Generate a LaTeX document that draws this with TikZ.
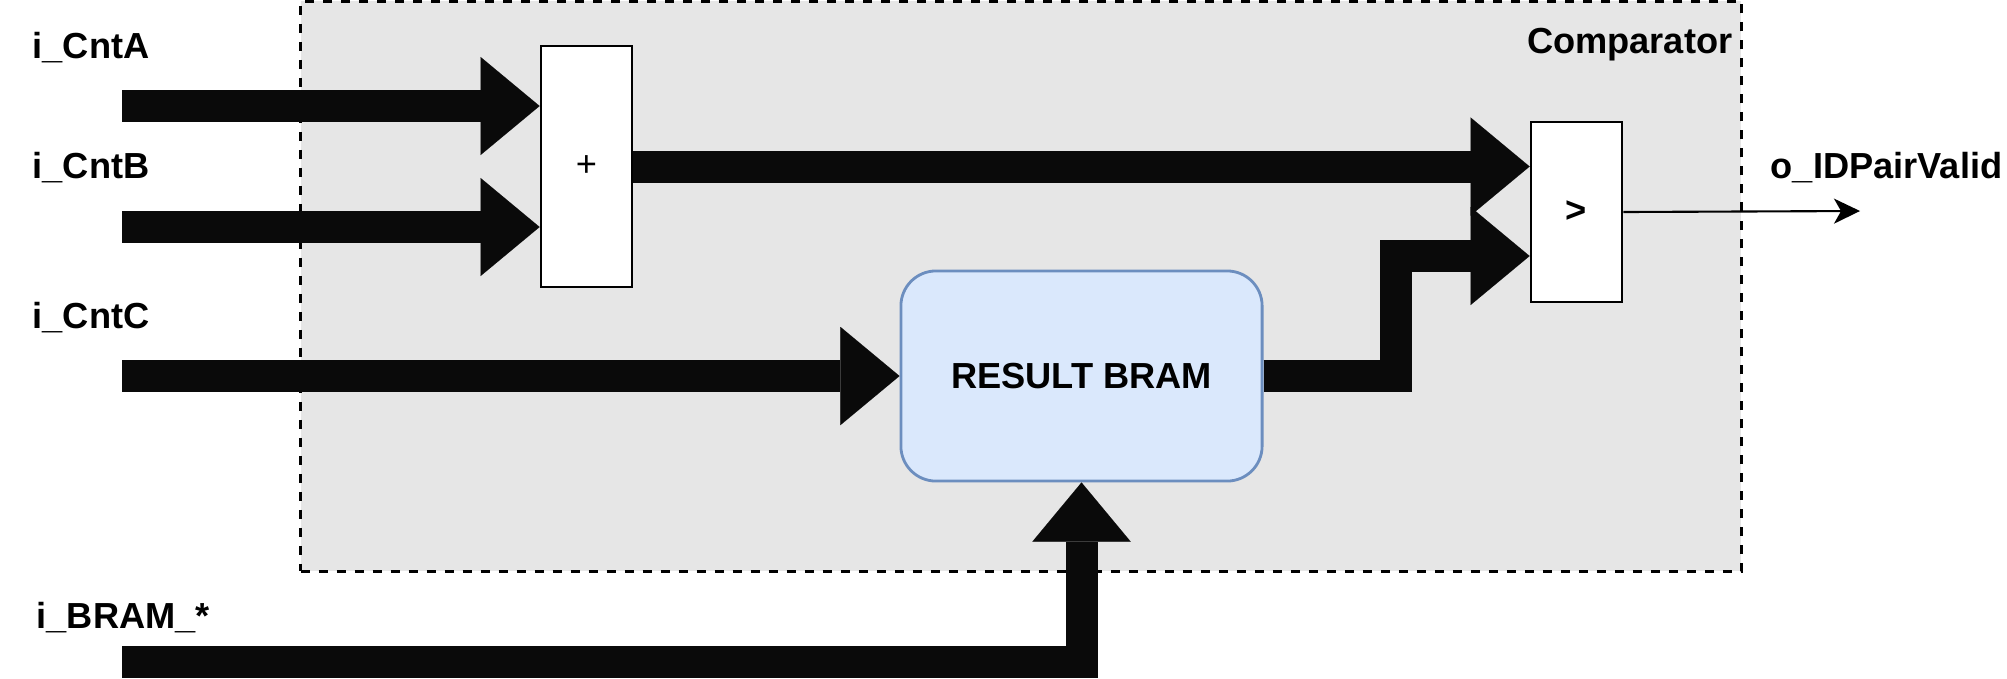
\documentclass[tikz,border=0pt]{standalone}
\usepackage{fontspec}
\setmainfont{Liberation Sans}
\usetikzlibrary{arrows.meta}
\definecolor{busfill}{HTML}{0A0A0A}
\definecolor{boxgray}{HTML}{E6E6E6}
\definecolor{bramfill}{HTML}{DAE8FC}
\definecolor{bramline}{HTML}{6C8EBF}
\begin{document}
\begin{tikzpicture}[
        x=0.01cm, y=-0.01cm,
        font=\fontsize{10.3}{12}\selectfont\bfseries,
        container/.style={draw, fill=boxgray, line width=0.95pt,
            dash pattern=on 2.56pt off 2.56pt, minimum width=14.4cm,
            minimum height=5.7cm, inner sep=0pt},
        opbox/.style={draw, fill=white, line width=0.8pt, minimum width=0.91cm,
            inner sep=0pt},
        bram/.style={draw=bramline, fill=bramfill, line width=0.8pt,
            rounded corners=0.35cm, minimum width=3.61cm, minimum height=2.1cm},
        bus/.style={draw=busfill, line width=0.32cm, line join=miter,
            -{Triangle[length=0.59cm, width=0.98cm, line width=0.01pt]}},
        wire/.style={line width=0.6pt, -{Stealth[length=0.26cm, width=0.25cm, inset=0.07cm]}},
        lbl/.style={anchor=west, inner sep=0pt}
    ]

    \useasboundingbox (0,0) rectangle (2007,678);

    \node[container] (comp) at (1021,286) {};
    \node[anchor=east, inner sep=0pt] (title) at (1733,45) {Comparator};

    \node[opbox, minimum height=2.41cm] (add) at (586.5,166.5) {\mdseries +};
    \node[opbox, minimum height=1.8cm] (cmp) at (1576.5,212) {>};
    \node[bram] (bram) at (1081.5,376) {RESULT BRAM};

    % inputs
    \node[lbl] (lA) at (32,48) {i\_CntA};
    \node[lbl] (lB) at (32,168) {i\_CntB};
    \node[lbl] (lC) at (32,318) {i\_CntC};
    \node[lbl] (lM) at (36,618) {i\_BRAM\_*};
    % output
    \node[lbl, anchor=east] (lV) at (2003,168) {o\_IDPairValid};

    \coordinate (inA) at (122,106);
    \coordinate (inB) at (122,227);
    \coordinate (inC) at (122,376);
    \coordinate (inM) at (122,662);
    \coordinate (up) at (1396,256);
    \coordinate (outV) at (1860,211);

    \draw[bus] (inA) -- (inA -| add.west);
    \draw[bus] (inB) -- (inB -| add.west);
    \draw[bus] (add.east) -- (add.east -| cmp.west);
    \draw[bus] (inC) -- (bram.west);
    \draw[bus] (bram.east) -| (up) -- (up -| cmp.west);
    \draw[bus] (inM) -| (bram.south);

    \draw[wire] (cmp.east) -- (outV);
\end{tikzpicture}
\end{document}
